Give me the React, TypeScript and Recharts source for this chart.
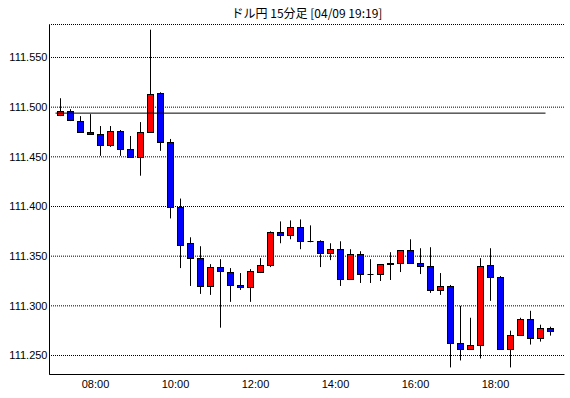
import { ComposedChart, Bar, XAxis, YAxis, CartesianGrid, ReferenceLine } from "recharts";

const times = [
  "07:00", "07:15", "07:30", "07:45", "08:00", "08:15", "08:30", "08:45", "09:00", "09:15",
  "09:30", "09:45", "10:00", "10:15", "10:30", "10:45", "11:00", "11:15", "11:30", "11:45",
  "12:00", "12:15", "12:30", "12:45", "13:00", "13:15", "13:30", "13:45", "14:00", "14:15",
  "14:30", "14:45", "15:00", "15:15", "15:30", "15:45", "16:00", "16:15", "16:30", "16:45",
  "17:00", "17:15", "17:30", "17:45", "18:00", "18:15", "18:30", "18:45", "19:00", "19:15",
];
const opens = [
  111.492, 111.496, 111.486, 111.475, 111.473, 111.462, 111.476, 111.458, 111.45, 111.475,
  111.514, 111.465, 111.4, 111.363, 111.348, 111.32, 111.339, 111.334, 111.321, 111.319,
  111.334, 111.341, 111.374, 111.371, 111.379, 111.365, 111.365, 111.353, 111.357, 111.327,
  111.352, 111.332, 111.332, 111.343, 111.343, 111.356, 111.343, 111.34, 111.316, 111.32,
  111.263, 111.257, 111.261, 111.341, 111.329, 111.257, 111.271, 111.287, 111.268, 111.278,
];
const highs = [
  111.509, 111.498, 111.491, 111.493, 111.481, 111.481, 111.477, 111.471, 111.485, 111.578,
  111.515, 111.468, 111.408, 111.369, 111.36, 111.342, 111.347, 111.338, 111.333, 111.337,
  111.348, 111.375, 111.385, 111.386, 111.387, 111.381, 111.366, 111.363, 111.365, 111.357,
  111.355, 111.347, 111.342, 111.354, 111.356, 111.367, 111.358, 111.359, 111.333, 111.321,
  111.3, 111.288, 111.348, 111.358, 111.33, 111.275, 111.288, 111.295, 111.281, 111.279,
];
const lows = [
  111.491, 111.486, 111.474, 111.472, 111.451, 111.46, 111.451, 111.449, 111.431, 111.474,
  111.456, 111.388, 111.338, 111.32, 111.312, 111.311, 111.278, 111.304, 111.316, 111.304,
  111.333, 111.339, 111.363, 111.367, 111.357, 111.364, 111.339, 111.346, 111.32, 111.326,
  111.323, 111.323, 111.325, 111.326, 111.334, 111.343, 111.332, 111.313, 111.311, 111.238,
  111.245, 111.256, 111.247, 111.305, 111.256, 111.238, 111.27, 111.261, 111.264, 111.27,
];
const closes = [
  111.496, 111.487, 111.475, 111.473, 111.462, 111.476, 111.458, 111.45, 111.475, 111.513,
  111.465, 111.4, 111.361, 111.348, 111.32, 111.339, 111.335, 111.321, 111.319, 111.335,
  111.341, 111.374, 111.371, 111.379, 111.365, 111.365, 111.353, 111.357, 111.327, 111.352,
  111.332, 111.332, 111.342, 111.342, 111.356, 111.343, 111.34, 111.316, 111.32, 111.263,
  111.257, 111.261, 111.34, 111.329, 111.257, 111.271, 111.287, 111.268, 111.278, 111.275,
];
const hourLabels = ["08:00", "10:00", "12:00", "14:00", "16:00", "18:00"];
const priceTicks = [111.25, 111.3, 111.35, 111.4, 111.45, 111.5, 111.55];
const basePrice = 111.494;

const toMin = (s: string) => {
  const [h, m] = s.split(":").map(Number);
  return h * 60 + m;
};
const fmtTime = (v: number) =>
  `${String(Math.floor(v / 60)).padStart(2, "0")}:${String(v % 60).padStart(2, "0")}`;

// candles sit in the middle of their 15 minute slot
const data = times.map((t, i) => ({
  t: toMin(t) + 7.5,
  open: opens[i],
  high: highs[i],
  low: lows[i],
  close: closes[i],
}));

const xDomain = [411, 1183.5];
const yDomain = [111.230873, 111.583221];
const xMajor = hourLabels.map(toMin);
const xMinor = times.map(toMin);
const yMinor = Array.from({ length: 34 }, (_, i) => +(111.24 + i * 0.01).toFixed(2));

const Candle = (props: any) => {
  const { x, y, width, height, payload } = props;
  if (x == null || payload == null) return null;
  const cx = Math.round(x + width / 2 - 0.5) + 0.5;
  const top = Math.min(y, y + height);
  const bot = Math.max(y, y + height);
  const { open, high, low, close } = payload;
  const py = (v: number) => top + ((high - v) / (high - low)) * (bot - top);
  const bt = Math.round(Math.min(py(open), py(close))) + 0.5;
  const bb = Math.round(Math.max(py(open), py(close))) + 0.5;
  const fill = close > open ? "#ff0000" : close < open ? "#0000ff" : "#000";
  return (
    <g>
      <line x1={cx} x2={cx} y1={top} y2={bot} stroke="#000" />
      {bb - bt < 1 ? (
        <line x1={cx - 3} x2={cx + 3} y1={bt} y2={bt} stroke="#000" />
      ) : (
        <rect x={cx - 3} y={bt} width={6} height={bb - bt} fill={fill} stroke="#000" />
      )}
    </g>
  );
};

const tickFont = { fontSize: 11, fill: "#000", fontFamily: "Liberation Sans, Arial, sans-serif" };
const black = { stroke: "#000" };
const noLabel = () => "";

export default function App() {
  return (
    <div style={{ position: "absolute", left: 0, top: 0, width: 570, height: 398, background: "#fff" }}>
      <div
        style={{
          position: "absolute",
          left: 49.5,
          width: 515,
          top: 4,
          textAlign: "center",
          fontSize: 12,
          fontFamily: '"Noto Sans CJK JP", sans-serif',
          color: "#000",
        }}
      >
        ドル円 15分足 [04/09 19:19]
      </div>
      <ComposedChart
        width={570}
        height={398}
        data={data}
        margin={{ top: 24.5, right: 5.5, bottom: 5.5, left: 5.5 }}
      >
        <CartesianGrid vertical={false} stroke="#000" strokeDasharray="1 1" strokeDashoffset={0.5} />
        <XAxis
          dataKey="t"
          type="number"
          domain={xDomain}
          allowDataOverflow
          ticks={xMajor}
          tickFormatter={fmtTime}
          height={18}
          tickLine={false}
          tickSize={4}
          tickMargin={2}
          axisLine={black}
          tick={tickFont}
        />
        <XAxis xAxisId="bMinor" type="number" domain={xDomain} allowDataOverflow mirror height={0} ticks={xMinor} tickFormatter={noLabel} tickSize={3} tickLine={black} axisLine={false} />
        <XAxis xAxisId="bMajor" type="number" domain={xDomain} allowDataOverflow mirror height={0} ticks={xMajor} tickFormatter={noLabel} tickSize={5} tickLine={black} axisLine={false} />
        <XAxis xAxisId="tMinor" orientation="top" type="number" domain={xDomain} allowDataOverflow mirror height={0} ticks={xMinor} tickFormatter={noLabel} tickSize={3} tickLine={black} axisLine={black} />
        <XAxis xAxisId="tMajor" orientation="top" type="number" domain={xDomain} allowDataOverflow mirror height={0} ticks={xMajor} tickFormatter={noLabel} tickSize={5} tickLine={black} axisLine={false} />
        <YAxis
          type="number"
          domain={yDomain}
          allowDataOverflow
          ticks={priceTicks}
          tickFormatter={(v: number) => v.toFixed(3)}
          width={44}
          tickLine={false}
          tickSize={0}
          tickMargin={2}
          axisLine={black}
          tick={tickFont}
        />
        <YAxis yAxisId="lMinor" type="number" domain={yDomain} allowDataOverflow mirror width={0} ticks={yMinor} tickFormatter={noLabel} tickSize={3} tickLine={black} axisLine={false} />
        <YAxis yAxisId="rMinor" orientation="right" type="number" domain={yDomain} allowDataOverflow mirror width={0} ticks={yMinor} tickFormatter={noLabel} tickSize={3} tickLine={black} axisLine={black} />
        <ReferenceLine
          segment={[
            { x: toMin(times[0]), y: basePrice },
            { x: toMin(times[times.length - 1]), y: basePrice },
          ]}
          stroke="#000"
        />
        <Bar
          dataKey={(d: any) => [d.low, d.high]}
          barSize={6}
          shape={(p: any) => <Candle {...p} />}
          isAnimationActive={false}
        />
      </ComposedChart>
    </div>
  );
}
